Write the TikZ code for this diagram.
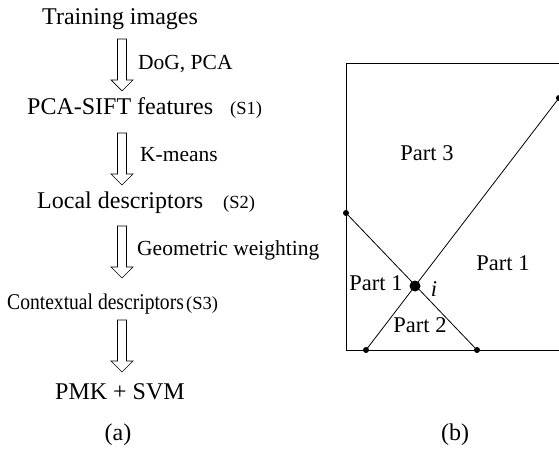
\documentclass[tikz,border=0pt]{standalone}
\usepackage{fontspec}
\setmainfont{Liberation Serif}
\begin{document}
\begin{tikzpicture}[x=1bp,y=-1bp,
  txt/.style={inner sep=0pt,font=\fontsize{24bp}{28bp}\selectfont,anchor=base west},
  lbl/.style={inner sep=0pt,font=\fontsize{21.5bp}{25bp}\selectfont,anchor=base west},
  sub/.style={inner sep=0pt,font=\fontsize{18.5bp}{22bp}\selectfont,anchor=base west},
  part/.style={inner sep=0pt,font=\fontsize{22.5bp}{26bp}\selectfont},
  edge/.style={line width=0.8bp},
  dot/.style={circle,fill=black,inner sep=0pt,minimum size=6bp},
  bigdot/.style={circle,fill=black,inner sep=0pt,minimum size=11bp},
  blockarr/.pic={\draw[line width=0.7bp,fill=white]
      (-4.5,0) -- (-4.5,41) -- (-11,41) -- (0,52) -- (11,41) -- (4.5,41) -- (4.5,0) -- cycle;}
]
\useasboundingbox (0,0) rectangle (559,450);

% (a) processing pipeline
\node[txt] (train) at (42,25) {Training images};
\pic at (122,39) {blockarr};
\node[lbl] (dog) at (138,70) {DoG, PCA};
\node[txt] (sift) at (27,115) {PCA-SIFT features};
\node[sub] (s1) at (230,115) {(S1)};
\pic at (122,133) {blockarr};
\node[lbl] (km) at (140,162) {K-means};
\node[txt] (local) at (37,209) {Local descriptors};
\node[sub] (s2) at (223,209) {(S2)};
\pic at (122,226) {blockarr};
\node[lbl] (geo) at (137,256) {Geometric weighting};
\node[txt,font=\fontsize{22.5bp}{26bp}\selectfont] (ctx) at (7,309)
  {\scalebox{0.87}[1]{Contextual descriptors}};
\node[sub] (s3) at (186,309) {(S3)};
\pic at (122,320) {blockarr};
\node[txt] (pmk) at (55,399) {PMK + SVM};
\node[txt,anchor=base] (capa) at (118,440) {(a)};

% (b) partition around point i
\coordinate (tl) at (346,63);
\coordinate (bl) at (346,350);
\coordinate (tr) at (560,63);
\coordinate (br) at (560,350);
\draw[edge] (tr) -- (tl) -- (bl) -- (br);
\node[bigdot] (i) at (415,286) {};
\node[dot] (pl) at (346,213) {};
\node[dot] (pb1) at (366,350) {};
\node[dot] (pb2) at (477,350) {};
\node[dot] (pr) at (559,98) {};
\draw[edge] (pl.center) -- (pb2.center);
\draw[edge] (pb1.center) -- (pr.center);
\node[part] (p3) at (427,153) {Part 3};
\node[part] (p1r) at (503,263) {Part 1};
\node[part] (p1l) at (376,283) {Part 1};
\node[part,font=\fontsize{22.5bp}{26bp}\itshape] (ilab) at (434,289) {i};
\node[part] (p2) at (420,325) {Part 2};
\node[txt,anchor=base] (capb) at (455,440) {(b)};
\end{tikzpicture}
\end{document}
